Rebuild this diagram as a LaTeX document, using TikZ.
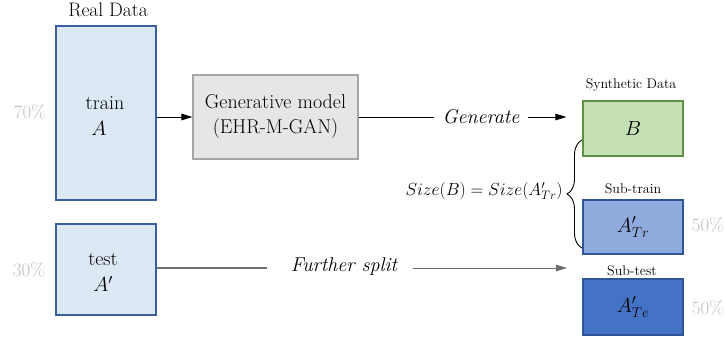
\documentclass[tikz,border=0pt]{standalone}
\usepackage{fix-cm}
\usepackage{fontspec}
\usetikzlibrary{arrows.meta,decorations.pathreplacing}

\definecolor{realfill}{HTML}{DDE8F5}
\definecolor{realdraw}{HTML}{3A5E9E}
\definecolor{genfill}{HTML}{E6E6E6}
\definecolor{gendraw}{HTML}{A6A6A6}
\definecolor{synfill}{HTML}{C5E0B4}
\definecolor{syndraw}{HTML}{5E9140}
\definecolor{trfill}{HTML}{8FAADC}
\definecolor{tefill}{HTML}{4472C4}
\definecolor{subdraw}{HTML}{2F5597}
\definecolor{pctgray}{HTML}{BFBFBF}
\definecolor{splitgray}{HTML}{6E6E6E}

\newcommand{\bodysize}{\fontsize{20}{24}\selectfont}
\newcommand{\capsize}{\fontsize{14}{16}\selectfont}
\newcommand{\headsize}{\fontsize{19.5}{23}\selectfont}
\newcommand{\mathsz}{\fontsize{17.5}{21}\selectfont}
\newcommand{\boxmathsz}{\fontsize{20.5}{24}\selectfont}

\tikzset{
  databox/.style={draw=#1, line width=1.2pt, minimum width=100pt, inner sep=0pt},
  caption/.style={font=\capsize},
  pct/.style={text=pctgray, font=\fontsize{19}{22}\selectfont},
  arrowline/.style={-{Triangle[length=11pt,width=6.5pt]}, line width=0.9pt},
  plainline/.style={line width=0.9pt},
}

\begin{document}
\begin{tikzpicture}[x=1pt, y=-1pt, font=\bodysize]
\useasboundingbox (0,0) rectangle (725,340);

% real data: train / test split
\node[font=\headsize] (realcap) at (108,10) {Real Data};
\node[databox=realdraw, fill=realfill, minimum height=174pt] (train) at (106,113) {};
\node (traintxt) at (105,103) {train};
\node[font=\boxmathsz] (trainA) at (99,128) {$A$};
\node[pct] (p70) at (30,112) {70\%};

\node[databox=realdraw, fill=realfill, minimum height=91pt] (test) at (106,269.5) {};
\node (testtxt) at (103,259) {test};
\node[font=\boxmathsz] (testA) at (103,284) {$A'$};
\node[pct] (p30) at (29,270) {30\%};

% generative model
\node[draw=gendraw, fill=genfill, line width=1.2pt, minimum width=165pt,
      minimum height=84pt, align=center, inner sep=0pt] (gen) at (275.5,117)
      {Generative model\\[1pt](EHR-M-GAN)};
\draw[arrowline] (train.east |- gen.west) -- (gen.west);

% synthetic data
\node[caption] (syncap) at (631,85) {Synthetic Data};
\node[databox=syndraw, fill=synfill, minimum height=55pt, font=\boxmathsz] (B) at (633,128.5) {$B$};
\node[font=\bodysize\itshape, inner xsep=8pt] (generate) at (481,117) {Generate};
\draw[plainline] (gen.east) -- (generate.west);
\draw[arrowline, shorten >=16pt] (generate.east) -- (B.west |- generate.east);

% sub-train / sub-test
\node[caption] (trcap) at (633,189) {Sub-train};
\node[databox=subdraw, fill=trfill, minimum height=54pt, font=\boxmathsz] (Tr) at (633,227) {$A'_{Tr}$};
\node[pct] (p50a) at (708,225) {50\%};

\node[caption] (tecap) at (632,271) {Sub-test};
\node[databox=subdraw, fill=tefill, minimum height=56pt, font=\boxmathsz] (Te) at (633,307) {$A'_{Te}$};
\node[pct] (p50b) at (708,308) {50\%};

% further split of the test set
\node[font=\bodysize\itshape] (split) at (344,266) {Further split};
\coordinate (splitend) at (567,268);
\draw[plainline, draw=splitgray, line width=1.2pt] (test.east |- splitend) -- ([xshift=-20pt]split.west |- splitend);
\draw[arrowline, draw=splitgray, fill=black] ([xshift=12pt]split.east |- splitend) -- (splitend);

% size constraint between synthetic data and sub-train
\coordinate (bracetop) at (582,140);
\coordinate (bracebot) at (582,248);
\draw[line width=0.9pt, decorate, decoration={brace, amplitude=15pt}] (bracebot) -- (bracetop);
\node[anchor=east, font=\mathsz] (size) at (566,191) {$Size(B) = Size(A'_{Tr})$};
\end{tikzpicture}
\end{document}
